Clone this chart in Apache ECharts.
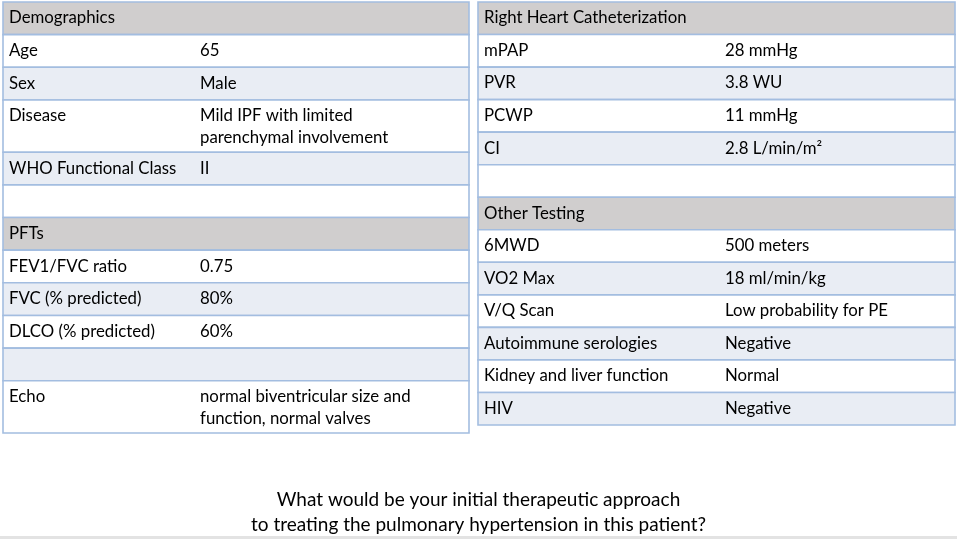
<!DOCTYPE html>
<html lang="en">

<head>
    <meta charset="UTF-8">
    <title>PH case</title>
    <style>
        * {
            margin: 0;
            padding: 0;
            box-sizing: border-box;
        }

        html,
        body {
            height: 100%;
            background: #fff;
        }

        #box {
            width: 957px;
            height: 539px;
        }
    </style>
    <script src="https://cdn.jsdelivr.net/npm/echarts@6/dist/echarts.min.js"></script>
</head>

<body>
    <div id="box"></div>

    <script>
        // left table: row kinds h = header, r = data row, e = empty
        var leftKinds = ['h', 'r', 'r', 'r', 'r', 'e', 'h', 'r', 'r', 'r', 'e', 'r'];
        var leftLabels = ['Demographics', 'Age', 'Sex', 'Disease', 'WHO Functional Class', '',
            'PFTs', 'FEV1/FVC ratio', 'FVC (% predicted)', 'DLCO (% predicted)', '', 'Echo'];
        var leftValues = ['', '65', 'Male', 'Mild IPF with limited\nparenchymal involvement', 'II', '',
            '', '0.75', '80%', '60%', '', 'normal biventricular size and\nfunction, normal valves'];

        // right table
        var rightKinds = ['h', 'r', 'r', 'r', 'r', 'e', 'h', 'r', 'r', 'r', 'r', 'r', 'r'];
        var rightLabels = ['Right Heart Catheterization', 'mPAP', 'PVR', 'PCWP', 'CI', '',
            'Other Testing', '6MWD', 'VO2 Max', 'V/Q Scan', 'Autoimmune serologies', 'Kidney and liver function', 'HIV'];
        var rightValues = ['', '28 mmHg', '3.8 WU', '11 mmHg', '2.8 L/min/m\u00b2', '',
            '', '500 meters', '18 ml/min/kg', 'Low probability for PE', 'Negative', 'Normal', 'Negative'];

        var question = 'What would be your initial therapeutic approach\nto treating the pulmonary hypertension in this patient?';

        var FONT = 'Lato';
        var GRAY = '#d0cece';
        var STRIPE = '#e9edf4';
        var BORDER = '#a3bde0';

        // row spans: one unit per text line, two-line rows a bit shorter than 2
        function spans(labels, values) {
            var out = [], y = 0;
            for (var i = 0; i < labels.length; i++) {
                var lines = Math.max(labels[i].split('\n').length, values[i].split('\n').length);
                var h = lines > 1 ? 1 + (lines - 1) * 0.6 : 1;
                out.push([y, y + h]);
                y += h;
            }
            return out;
        }

        function stripes(kinds) {
            var out = [], k = 0;
            for (var i = 0; i < kinds.length; i++) {
                if (kinds[i] === 'h') { out.push(GRAY); k = 0; continue; }
                out.push(k % 2 === 0 ? '#ffffff' : STRIPE);
                k++;
            }
            return out;
        }

        function makeRender(labels, values, fills, valueCol) {
            return function (params, api) {
                var i = params.dataIndex;
                var p0 = api.coord([0, api.value(0)]);
                var p1 = api.coord([1, api.value(1)]);
                var x = p0[0], y = Math.min(p0[1], p1[1]);
                var w = p1[0] - p0[0], h = Math.abs(p1[1] - p0[1]);
                var vx = api.coord([valueCol, 0])[0];
                return {
                    type: 'group',
                    children: [{
                        type: 'rect',
                        shape: { x: x, y: y, width: w, height: h },
                        style: { fill: fills[i], stroke: BORDER, lineWidth: 1.6 }
                    }, {
                        type: 'text',
                        style: {
                            x: x + 6, y: y + 5, text: labels[i], fill: '#000',
                            font: '16.8px ' + FONT, lineHeight: 22, verticalAlign: 'top'
                        }
                    }, {
                        type: 'text',
                        style: {
                            x: vx, y: y + 5, text: values[i], fill: '#000',
                            font: '16.8px ' + FONT, lineHeight: 22, verticalAlign: 'top'
                        }
                    }]
                };
            };
        }

        var leftSpans = spans(leftLabels, leftValues);
        var rightSpans = spans(rightLabels, rightValues);
        var leftMax = leftSpans[leftSpans.length - 1][1];
        var rightMax = rightSpans[rightSpans.length - 1][1];

        var box = document.getElementById('box');
        var myChart = echarts.init(box);

        var hiddenAxis = { show: false, splitLine: { show: false } };

        myChart.setOption({
            animation: false,
            title: {
                text: question,
                left: 'center',
                top: 482,
                textStyle: { fontFamily: FONT, fontSize: 19, fontWeight: 'normal', color: '#000', lineHeight: 25 }
            },
            grid: [
                { left: 3, top: 2, width: 466, height: 431 },
                { left: 478, top: 2, width: 477, height: 423 }
            ],
            xAxis: [
                Object.assign({ type: 'value', min: 0, max: 1, gridIndex: 0 }, hiddenAxis),
                Object.assign({ type: 'value', min: 0, max: 1, gridIndex: 1 }, hiddenAxis)
            ],
            yAxis: [
                Object.assign({ type: 'value', min: 0, max: leftMax, inverse: true, gridIndex: 0 }, hiddenAxis),
                Object.assign({ type: 'value', min: 0, max: rightMax, inverse: true, gridIndex: 1 }, hiddenAxis)
            ],
            graphic: [{
                type: 'rect',
                shape: { x: 0, y: 536, width: 957, height: 3 },
                style: { fill: '#e3e3e3' }
            }],
            series: [{
                type: 'custom',
                xAxisIndex: 0,
                yAxisIndex: 0,
                encode: { y: [0, 1] },
                renderItem: makeRender(leftLabels, leftValues, stripes(leftKinds), 197 / 466),
                data: leftSpans
            }, {
                type: 'custom',
                xAxisIndex: 1,
                yAxisIndex: 1,
                encode: { y: [0, 1] },
                renderItem: makeRender(rightLabels, rightValues, stripes(rightKinds), 247 / 477),
                data: rightSpans
            }]
        });

        window.onresize = function () {
            myChart.resize();
        }
    </script>
</body>

</html>
